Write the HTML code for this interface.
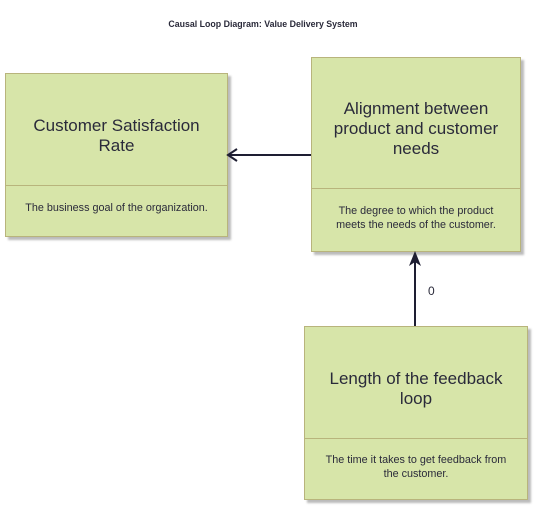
<!DOCTYPE html>
<html><head><meta charset="utf-8"><style>
body{margin:0;width:537px;height:510px;background:#fff;position:relative;font-family:"Liberation Sans",sans-serif;color:#2a2a3a;overflow:hidden}
.b{position:absolute;background:#d7e5a9;border:1px solid #b8b47c;box-shadow:3px 3px 2px #bbb;box-sizing:border-box}
.t{position:absolute;left:0;right:0;text-align:center;font-size:17px;line-height:20px}
.d{position:absolute;left:0;right:0;text-align:center;font-size:10.8px;line-height:14px}
.h{position:absolute;left:0;right:0;border-top:1px solid #b8b47c}
</style></head><body>
<div style="position:absolute;top:19px;left:0;width:526px;text-align:center;font-size:8.8px;font-weight:bold">Causal Loop Diagram: Value Delivery System</div>
<div class="b" style="left:5px;top:73px;width:223px;height:164px">
<div class="t" style="top:42px">Customer Satisfaction<br>Rate</div>
<div class="h" style="top:111px"></div>
<div class="d" style="top:127px">The business goal of the organization.</div></div>
<div class="b" style="left:311px;top:57px;width:210px;height:195px">
<div class="t" style="top:41px">Alignment between<br>product and customer<br>needs</div>
<div class="h" style="top:130px"></div>
<div class="d" style="top:146px">The degree to which the product<br>meets the needs of the customer.</div></div>
<div class="b" style="left:304px;top:326px;width:224px;height:174px">
<div class="t" style="top:42px">Length of the feedback<br>loop</div>
<div class="h" style="top:111px"></div>
<div class="d" style="top:126px">The time it takes to get feedback from<br>the customer.</div></div>
<svg width="537" height="510" style="position:absolute;left:0;top:0">
<g stroke="#1e1e32" stroke-width="2" fill="none">
<line x1="311" y1="155" x2="230" y2="155"/>
<polyline points="237,149 228,155 237,161"/>
<line x1="415" y1="326" x2="415" y2="256"/>
</g>
<polygon points="415,251 409,266 415,262 421,266" fill="#1e1e32"/>
<text x="428" y="295" font-size="12" font-family="Liberation Sans" fill="#2a2a3a">0</text>
</svg>
</body></html>
